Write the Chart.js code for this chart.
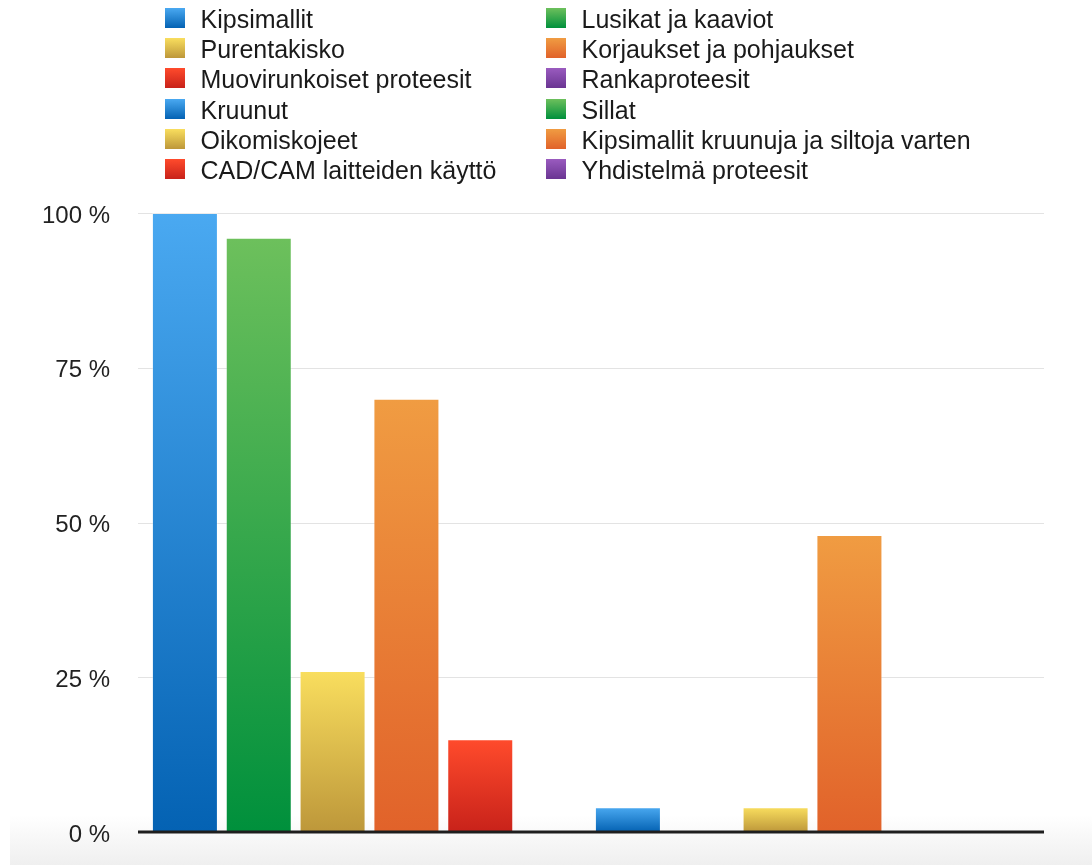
<!DOCTYPE html>
<html>
<head>
<meta charset="utf-8">
<script src="https://cdn.jsdelivr.net/npm/chart.js@4/dist/chart.umd.min.js"></script>
<style>
  html, body { margin: 0; padding: 0; background: #fff; }
  body { width: 1092px; height: 865px; position: relative; overflow: hidden;
         font-family: "Liberation Sans", Arial, Helvetica, sans-serif; }
  #floor { position: absolute; left: 10px; right: 0; top: 815px; bottom: 0;
           background: linear-gradient(to bottom, #ffffff, #efefef); z-index: 0; }
  #wrap { position: absolute; left: 0; top: 0; width: 1092px; height: 865px; z-index: 1; }
  #legend { position: absolute; left: 0; top: 0; z-index: 2; }
  .item { position: absolute; height: 24px; white-space: nowrap; }
  .swatch { position: absolute; left: 0; top: 0; width: 20px; height: 20px; }
  .label { position: absolute; top: -1px; font-size: 25px; line-height: 24px; color: #1a1a1a; }
</style>
</head>
<body>
<div id="floor"></div>
<div id="wrap"><canvas id="chart" width="1092" height="865"></canvas></div>
<div id="legend"></div>
<script>
// Work types and the share of respondents doing each (%)
const categories = [
  'Kipsimallit',
  'Lusikat ja kaaviot',
  'Purentakisko',
  'Korjaukset ja pohjaukset',
  'Muovirunkoiset proteesit',
  'Rankaproteesit',
  'Kruunut',
  'Sillat',
  'Oikomiskojeet',
  'Kipsimallit kruunuja ja siltoja varten',
  'CAD/CAM laitteiden käyttö',
  'Yhdistelmä proteesit'
];
const shares = [100, 96, 26, 70, 15, 0, 4, 0, 4, 48, 0, 0];
const yTicks = [0, 25, 50, 75, 100];

// Colour cycle: [top, bottom] of each bar's vertical gradient
const palette = [
  ['#4aa9f1', '#0462b3'],  // blue
  ['#6dc05c', '#00903c'],  // green
  ['#f9de5e', '#bd973a'],  // yellow
  ['#f09c42', '#e1622a'],  // orange
  ['#ff4b2c', '#c8221a'],  // red
  ['#9a5bbf', '#6a3592']   // purple
];

function barFill(ctx) {
  const pair = palette[ctx.dataIndex % palette.length];
  const chart = ctx.chart;
  const y = chart.scales && chart.scales.y;
  if (!y || !chart.chartArea) return pair[1];
  const v = ctx.raw || 0;
  const top = y.getPixelForValue(v);
  const base = y.getPixelForValue(0);
  if (base - top < 1) return pair[1];
  const g = chart.ctx.createLinearGradient(0, top, 0, base);
  g.addColorStop(0, pair[0]);
  g.addColorStop(1, pair[1]);
  return g;
}

// Horizontal grid lines behind the bars, a little wider than the plot area
const gridPlugin = {
  id: 'extendedGrid',
  beforeDatasetsDraw(chart) {
    const { ctx, chartArea, scales } = chart;
    ctx.save();
    ctx.strokeStyle = '#e3e3e3';
    ctx.lineWidth = 1;
    scales.y.ticks.forEach(t => {
      if (t.value === 0) return;
      const y = Math.round(scales.y.getPixelForValue(t.value)) + 0.5;
      ctx.beginPath();
      ctx.moveTo(chartArea.left - 10, y);
      ctx.lineTo(chartArea.right + 10, y);
      ctx.stroke();
    });
    ctx.restore();
  },
  afterDatasetsDraw(chart) {
    const { ctx, chartArea, scales } = chart;
    const y = scales.y.getPixelForValue(0);
    ctx.save();
    ctx.strokeStyle = '#1e1e1e';
    ctx.lineWidth = 3;
    ctx.beginPath();
    ctx.moveTo(chartArea.left - 10, y);
    ctx.lineTo(chartArea.right + 10, y);
    ctx.stroke();
    ctx.restore();
  }
};

new Chart(document.getElementById('chart'), {
  type: 'bar',
  data: {
    labels: categories,
    datasets: [{
      data: shares,
      backgroundColor: barFill,
      borderColor: 'rgba(255,255,255,0.3)',
      borderWidth: ctx => (ctx.raw > 0 ? 1 : 0),
      borderSkipped: 'bottom',
      barPercentage: 0.894,
      categoryPercentage: 1
    }]
  },
  options: {
    responsive: false,
    animation: false,
    layout: { padding: { top: 213, bottom: 33, left: 0, right: 58 } },
    plugins: { legend: { display: false }, tooltip: { enabled: false } },
    scales: {
      x: { display: false },
      y: {
        min: 0,
        max: 100,
        afterBuildTicks(scale) { scale.ticks = yTicks.map(v => ({ value: v })); },
        afterFit(scale) {
          scale.width = 148;
          scale.paddingTop = 0;
          scale.paddingBottom = 0;
        },
        grid: { display: false },
        border: { display: false },
        ticks: {
          padding: 30,
          labelOffset: 3,
          color: '#222',
          font: { family: '"Liberation Sans", Arial, sans-serif', size: 24 },
          callback: v => v + ' %'
        }
      }
    }
  },
  plugins: [gridPlugin]
});

// Two-column legend, items read left-to-right, row by row
const legend = document.getElementById('legend');
const colX = [165, 546];
const textX = [200.5, 581.5];
categories.forEach((name, i) => {
  const col = i % 2, row = Math.floor(i / 2);
  const pair = palette[i % palette.length];
  const item = document.createElement('div');
  item.className = 'item';
  item.style.left = colX[col] + 'px';
  item.style.top = (8 + row * 30.2) + 'px';
  const sw = document.createElement('div');
  sw.className = 'swatch';
  sw.style.background = 'linear-gradient(to bottom, ' + pair[0] + ', ' + pair[1] + ')';
  const lb = document.createElement('span');
  lb.className = 'label';
  lb.style.left = (textX[col] - colX[col]) + 'px';
  lb.textContent = name;
  item.appendChild(sw);
  item.appendChild(lb);
  legend.appendChild(item);
});
</script>
</body>
</html>
